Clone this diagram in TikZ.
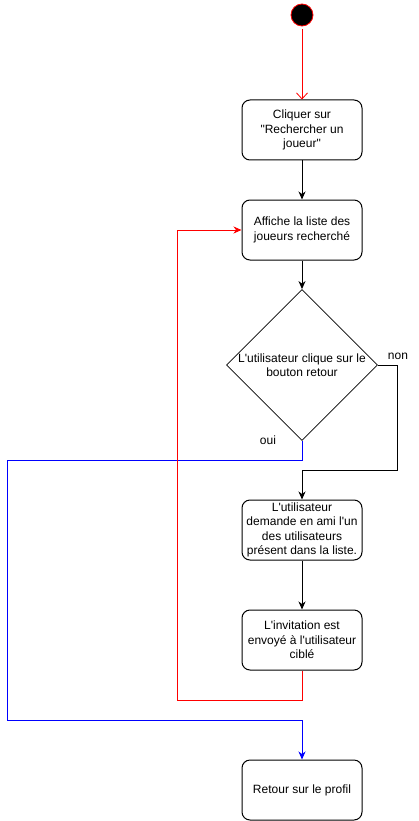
\documentclass[tikz,border=0pt]{standalone}
\usepackage{fontspec}
\setmainfont{Liberation Sans}[Ligatures=TeXOff]
\usetikzlibrary{arrows.meta,shapes.geometric}
\begin{document}
\begin{tikzpicture}[x=1pt,y=-1pt,
  every node/.style={font=\fontsize{12}{14.5}\selectfont},
  box/.style={draw, rounded corners=8pt, minimum width=120pt, minimum height=60pt, align=center, inner sep=1pt, line width=1pt},
  dec/.style={draw, diamond, minimum width=150pt, minimum height=150pt, inner sep=0pt, align=center, line width=0.8pt},
  flow/.style={line width=1pt, -{Stealth[length=8pt,width=7pt,inset=2.5pt]}},
  startdot/.style={circle, draw=red, fill=black, minimum size=22pt, inner sep=0pt, line width=0.8pt}
]
\useasboundingbox (0,0) rectangle (418,821);
\node[startdot] (start) at (302,15) {};
\node[box] (b1) at (302,130) {Cliquer sur\\"Rechercher un\\joueur"};
\node[box] (b2) at (302,230) {Affiche la liste des\\joueurs recherché};
\node[dec] (dec) at (302,365) {L'utilisateur clique sur le\\bouton retour};
\node[box] (b3) at (302,530) {L'utilisateur\\demande en ami l'un\\des utilisateurs\\présent dans la liste.};
\node[box] (b4) at (302,640) {L'invitation est\\envoyé à l'utilisateur\\ciblé};
\node[box] (b5) at (302,790) {Retour sur le profil};
\node (non) at (398,356) {non};
\node (oui) at (268,440) {oui};
\coordinate (n1) at (397,470);
\coordinate (o1) at (7,460);
\coordinate (o2) at (7,720);
\coordinate (r1) at (177,700);
\draw[red, line width=0.8pt, shorten <=3pt, -{Straight Barb[length=6pt,width=11pt]}] (start) -- (b1);
\draw[flow] (b1) -- (b2);
\draw[flow] (b2) -- (dec);
\draw[flow] (dec.east) -| (n1) -| (b3.north);
\draw[flow] (b3) -- (b4);
\draw[flow, blue] (dec.south) |- (o1) -- (o2) -| (b5.north);
\draw[flow, red] (b4.south) |- (r1) |- (b2.west);
\end{tikzpicture}
\end{document}
